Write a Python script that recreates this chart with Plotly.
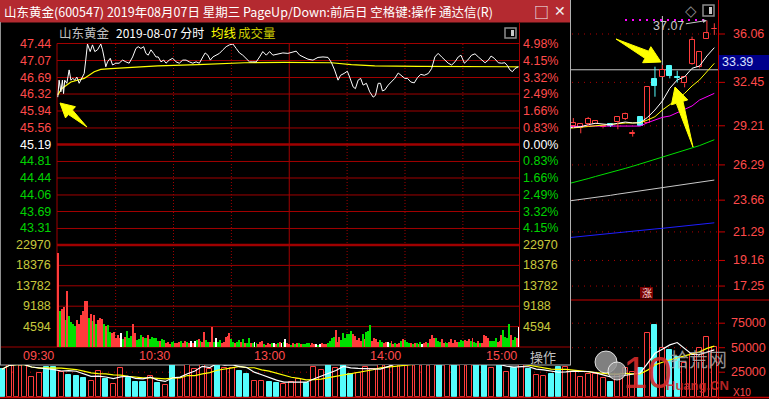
import math
import pandas as pd
import plotly.graph_objects as go

W, H = 769, 399


def fx(px):
    return px / W


def fy(py):
    return 1 - py / H


# ====================== DATA ======================
title_text = "山东黄金(600547) 2019年08月07日 星期三 PageUp/Down:前后日 空格键:操作 通达信(R)"
stock_name = "山东黄金"
date_label = "2019-08-07 分时"
prev_close = 45.19

# intraday price line (minute index from 09:30, 13:00 = 120)
price_minutes = [
    0, 0.7, 1.6, 2.4, 3.0, 3.6, 4.7, 5.9, 6.8, 7.8,
    8.8, 9.9, 11.1, 12.3, 13.7, 14.5, 15.4, 16.8, 18.0, 19.2,
    20.6, 22.3, 23.2, 24.1, 24.9, 25.8, 27.2, 28.4, 30.1, 31.8,
    33.6, 35.3, 37.0, 38.8, 40.5, 41.7, 43.1, 44.5, 45.7, 46.9,
    48.3, 49.7, 50.9, 52.1, 53.5, 54.9, 56.1, 57.8, 59.6, 61.3,
    63.0, 64.8, 66.5, 68.2, 70.0, 71.7, 73.4, 75.2, 76.4, 77.8,
    79.1, 80.4, 82.1, 83.8, 85.6, 87.3, 89.0, 90.8, 92.5, 94.2,
    95.9, 97.7, 99.4, 101.1, 102.9, 104.6, 106.3, 108.1, 109.8, 111.5,
    114.1, 116.7, 119.3, 121.9, 123.6, 125.4, 127.6, 129.7, 132.3, 134.9,
    137.5, 140.1, 141.8, 143.5, 145.3, 146.6, 148.4, 150.1, 151.3, 153.1,
    154.3, 155.7, 157.0, 158.3, 160.0, 161.7, 163.5, 164.7, 166.1, 167.3,
    168.3, 169.5, 171.3, 173.0, 174.7, 176.5, 178.2, 179.9, 181.3, 183.0,
    184.8, 186.5, 188.2, 190.0, 192.1, 193.8, 195.5, 197.2, 199.0, 200.7,
    202.4, 204.2, 205.9, 207.6, 209.0, 210.8, 212.5, 214.5, 216.3, 218.0,
    219.7, 221.5, 223.2, 224.6, 226.3, 228.4, 230.1, 231.8, 233.2, 234.4,
    235.7, 237.0, 238.8,
]
price_values = [
    46.25, 46.63, 46.37, 46.63, 46.33, 46.63, 46.56, 46.86, 46.63, 46.67,
    46.63, 46.70, 46.56, 46.67, 46.78, 47.08, 47.44, 47.27, 47.42, 47.27,
    47.31, 47.44, 47.31, 47.12, 46.93, 47.04, 47.12, 46.97, 47.01, 47.01,
    47.08, 47.04, 47.01, 47.15, 47.34, 47.38, 47.34, 47.38, 47.23, 47.19,
    47.31, 47.23, 47.15, 47.15, 47.04, 47.08, 47.01, 47.08, 47.12, 47.04,
    47.01, 47.08, 47.08, 47.04, 47.01, 47.04, 47.01, 47.15, 47.24, 47.19,
    47.08, 47.15, 47.19, 47.23, 47.31, 47.38, 47.42, 47.44, 47.34, 47.24,
    47.19, 47.12, 47.04, 47.04, 47.04, 47.15, 47.27, 47.19, 47.27, 47.19,
    47.22, 47.24, 47.23, 47.27, 47.28, 47.19, 47.14, 47.10, 47.08, 47.14,
    47.15, 47.14, 47.03, 46.86, 46.63, 46.74, 46.78, 46.83, 46.70, 46.48,
    46.44, 46.63, 46.67, 46.52, 46.56, 46.37, 46.25, 46.29, 46.56, 46.56,
    46.39, 46.41, 46.52, 46.59, 46.67, 46.79, 46.74, 46.67, 46.67, 46.59,
    46.57, 46.69, 46.76, 46.74, 46.78, 46.89, 47.15, 47.23, 47.15, 47.08,
    47.01, 46.97, 47.04, 47.15, 47.19, 47.01, 47.08, 47.19, 47.22, 47.15,
    47.08, 47.02, 47.08, 47.17, 47.12, 47.02, 47.01, 47.02, 46.95, 46.86,
    46.82, 46.89, 46.93,
]

# average price line
avg_minutes = [0, 2, 6.8, 11.1, 13.7, 18.9, 22.3, 27.5, 39.6, 51.8, 72.6, 96.8,
               117.6, 141.8, 152.2, 164.3, 186.8, 238.8]
avg_values = [46.30, 46.44, 46.59, 46.63, 46.67, 46.82, 46.87, 46.89, 46.92, 46.95,
              46.98, 47.02, 47.03, 47.02, 46.98, 46.95, 46.94, 46.93]

# per-minute volume, morning (minutes 0..119) and afternoon (120..239)
vol_am = [
    21100, 8180, 8490, 8940, 6080, 12680, 6980, 5700, 5070, 4750,
    6080, 5070, 7200, 8180, 10360, 10360, 6460, 7360, 5920, 7200,
    5070, 6080, 6460, 6300, 5070, 4750, 4880, 3450, 3130, 3350,
    1950, 2700, 1950, 3130, 1730, 2330, 3680, 1950, 2550, 5070,
    3130, 1580, 1730, 2700, 2330, 1950, 1950, 2700, 1730, 2330,
    1950, 1950, 1430, 1430, 1730, 1580, 970, 1200, 680, 1200,
    1430, 970, 830, 1200, 1430, 970, 1430, 1200, 830, 1430,
    970, 1430, 1580, 1730, 1430, 1200, 3450, 1580, 1200, 1200,
    4440, 1200, 1950, 1200, 1580, 830, 1200, 2330, 2480, 3200,
    1730, 1200, 970, 1200, 1580, 1200, 1730, 970, 830, 1950,
    830, 970, 1200, 830, 680, 1200, 1430, 680, 450, 970,
    680, 830, 970, 680, 970, 1200, 830, 1200, 1730, 970,
]
dir_am = [  # 1 up (red), -1 down (green), 0 unchanged (white)
    1, -1, 1, 1, -1, 1, -1, -1, -1, -1,
    1, 1, 1, 1, 1, 1, -1, 1, -1, 1,
    -1, 1, 1, 1, -1, 1, -1, -1, 1, 1,
    1, 1, 1, 0, -1, 1, -1, -1, -1, 1,
    1, -1, -1, -1, 1, -1, -1, 1, -1, -1,
    -1, -1, -1, 1, -1, -1, 1, 1, 1, -1,
    -1, 1, 1, 1, -1, 1, 1, -1, 1, 0,
    1, 0, -1, 1, -1, 1, 1, -1, -1, 1,
    1, -1, 0, -1, -1, 1, 1, 1, 1, 1,
    -1, -1, 1, -1, -1, 1, -1, 1, -1, -1,
    1, -1, 0, -1, 1, 1, 1, -1, 1, 1,
    1, -1, 0, 1, -1, 1, 0, -1, 0, 1,
]
vol_pm = [
    680, 450, 830, 680, 970, 830, 680, 680, 680, 830,
    970, 450, 830, 680, 680, 450, 680, 830, 680, 680,
    970, 1430, 1950, 2330, 3830, 1200, 2330, 1580, 3130, 1950,
    2960, 2960, 3600, 2960, 2480, 1580, 1950, 1430, 2960, 1730,
    3370, 3680, 4950, 1430, 1950, 1730, 1200, 1580, 1200, 830,
    1200, 1200, 970, 1430, 680, 970, 680, 830, 1430, 1730,
    1580, 1200, 830, 970, 680, 970, 970, 680, 1200, 680,
    830, 1200, 970, 1730, 2700, 1950, 1950, 1430, 1200, 1730,
    970, 1200, 970, 1200, 1730, 970, 1580, 1200, 1200, 1580,
    1430, 1580, 1430, 1730, 1430, 1950, 1200, 970, 1430, 970,
    830, 2700, 2480, 1950, 1430, 1430, 1430, 1950, 1200, 1430,
    2700, 3830, 2330, 1950, 5180, 2700, 1580, 2330, 1950, 4570,
]
dir_pm = [
    1, -1, 1, -1, 1, -1, 1, -1, -1, -1,
    -1, 1, 1, 1, 0, -1, 0, 1, 1, 1,
    -1, -1, -1, -1, 1, 1, 1, -1, -1, -1,
    -1, -1, -1, 1, 1, 1, 1, 1, -1, 1,
    -1, -1, -1, 1, 1, 1, 1, -1, -1, 1,
    1, 0, -1, 1, 1, -1, 1, 1, -1, 1,
    -1, -1, -1, 1, -1, 1, -1, 1, -1, 0,
    1, 1, -1, 1, 1, 1, -1, -1, -1, 1,
    1, -1, -1, 1, 1, 1, 1, 1, -1, -1,
    -1, 1, 1, 1, -1, 1, -1, -1, 1, -1,
    1, 1, 1, 1, -1, -1, -1, -1, 1, 1,
    1, -1, -1, -1, -1, 1, -1, -1, 1, 0,
]

price_ticks = [47.44, 47.07, 46.69, 46.32, 45.94, 45.56, 45.19,
               44.81, 44.44, 44.06, 43.69, 43.31]
price_floor = 42.94
pct_labels = ["4.98%", "4.15%", "3.32%", "2.49%", "1.66%", "0.83%", "0.00%",
              "0.83%", "1.66%", "2.49%", "3.32%", "4.15%"]
vol_ticks = [22970, 18376, 13782, 9188, 4594]
time_labels = ["09:30", "10:30", "13:00", "14:00", "15:00"]
time_marks = [0, 60, 120, 180, 240]
dotted_minutes = [30, 60, 90, 150, 180, 210]
noon_minute = 120

# daily K-line (visible candles, bar index 77..96)
k_index = list(range(77, 97))
k_open = [29.19, 29.07, 29.34, 29.32, 29.10, 29.34, 29.47, 29.72, 28.62, 29.84,
          29.40, 32.70, 32.87, 33.67, 32.83, 32.38, 33.80, 33.57, 35.69, 36.40]
k_high = [29.79, 29.32, 29.87, 29.64, 29.22, 29.40, 29.84, 30.19, 28.90, 29.94,
          32.08, 33.62, 33.75, 33.75, 33.32, 32.83, 35.86, 34.74, 37.07, 36.86]
k_low = [29.05, 28.65, 29.14, 29.32, 29.02, 29.12, 28.95, 29.64, 28.40, 29.19,
         29.40, 31.38, 32.87, 32.75, 32.43, 32.08, 33.75, 33.50, 35.69, 35.99]
k_close = [29.40, 29.32, 29.72, 29.59, 29.19, 29.19, 29.84, 30.07, 28.65, 29.19,
           32.08, 32.18, 33.37, 32.93, 32.78, 32.83, 35.61, 34.74, 36.11, 36.45]

# moving averages (bar index 76..96)
ma_index = list(range(76, 97))
ma5 = [29.05, 29.10, 29.14, 29.29, 29.40, 29.34, 29.29, 29.40, 29.49, 29.42, 29.44,
       29.84, 30.39, 31.06, 32.01, 32.63, 32.87, 33.50, 33.67, 34.42, 35.04]
ma10 = [29.00, 29.05, 29.10, 29.20, 29.25, 29.30, 29.30, 29.35, 29.42, 29.42, 29.44,
        29.64, 29.89, 30.39, 30.76, 31.19, 31.63, 32.18, 32.63, 33.25, 33.87]
ma20 = [29.15, 29.17, 29.18, 29.19, 29.19, 29.19, 29.19, 29.19, 29.20, 29.20, 29.19,
        29.44, 29.64, 29.84, 29.94, 30.19, 30.39, 30.69, 31.13, 31.38, 31.63]
ma60 = [24.84, 24.97, 25.13, 25.27, 25.43, 25.57, 25.72, 25.89, 26.03, 26.19, 26.36,
        26.51, 26.69, 26.85, 27.01, 27.20, 27.37, 27.56, 27.73, 27.95, 28.17]
ma120 = [23.57, 23.64, 23.70, 23.79, 23.86, 23.95, 24.02, 24.11, 24.19, 24.27, 24.36,
         24.43, 24.52, 24.60, 24.67, 24.76, 24.84, 24.91, 25.00, 25.07, 25.16]
ma250 = [20.84, 20.90, 20.95, 21.01, 21.06, 21.11, 21.17, 21.23, 21.28, 21.34, 21.40,
         21.45, 21.51, 21.56, 21.62, 21.68, 21.73, 21.79, 21.85, 21.90, 21.97]

# daily volume, bar index 0..96
kvol = [
    28000, 36000, 34000, 33000, 20400, 23900, 30600, 30600, 25500, 22100,
    21100, 19400, 16000, 26200, 17700, 12600, 29000, 18800, 15300, 15300,
    21100, 14300, 11900, 34000, 18800, 38000, 28000, 36000, 28000, 40000,
    29600, 29600, 26500, 23200, 16300, 16300, 15000, 13700, 13000, 15300,
    17700, 14300, 30000, 27200, 33000, 29000, 35000, 23200, 24500, 30600,
    28300, 34000, 36000, 38000, 37000, 40000, 42000, 39000, 41000, 38000,
    36000, 40000, 37000, 35000, 34000, 33000, 29000, 34000, 25200, 29600,
    36000, 28000, 22100, 21400, 23200, 30000, 30000, 25500, 19800, 23200,
    23200, 19400, 15300, 22000, 29000, 25500, 29000, 64700, 73200, 50000,
    47600, 40800, 34000, 43600, 49400, 61200, 51000,
]
kvol_dir = [
    -1, 1, 1, 1, 1, 1, -1, -1, 1, -1,
    -1, -1, 1, 1, -1, 1, 1, -1, -1, -1,
    1, -1, 1, -1, 1, 1, 1, 1, 1, -1,
    1, 1, -1, -1, 1, 1, -1, -1, 1, 1,
    1, -1, 1, 1, -1, 1, -1, -1, 1, 1,
    1, 1, 1, 1, 1, 1, 1, 1, 1, -1,
    1, -1, 1, 1, -1, -1, 1, -1, 1, -1,
    1, -1, 1, 1, -1, -1, 1, 1, 1, 1,
    1, 1, -1, 1, 1, 1, -1, 1, -1, 1,
    -1, -1, 1, 1, 1, 1, 1,
]

k_ticks = [36.06, 32.45, 29.21, 26.29, 23.66, 21.29, 19.16, 17.25]
kvol_ticks = [75000, 50000, 25000]
kvol_unit = "X10"
cross_price = 33.39
cross_index = 89
high_price = 37.07
high_index = 95

# ====================== STYLE / GEOMETRY ======================
BG = "#000000"
TITLE_RED = "#b42a30"
GRID_RED = "#a00000"
AXIS_RED = "#c80000"
TXT_RED = "#ff4a4a"
TXT_GREEN = "#00d200"
TXT_VOL = "#c8c83c"
UP = "#ff3c3c"
DN_GREEN = "#00e000"
CYAN = "#54fcfc"
NUM_FONT = "Liberation Sans, Arial, sans-serif"
CJK_FONT = "Noto Sans CJK SC, sans-serif"

IX0, IX1 = 57, 519
PY0, PY1 = 44, 245
VY1 = 347
KX0, KX1 = 571, 718
K_STEP, K_X0 = 7.42, 2.0
KP_REF_PX, KP_REF_VAL, KP_PX_PER = 34.0, 36.06, 13.4
VOL_BOT = 396.7
VPP = 25000 / 24.5

im_range = [-0.4, 239.1]
k_price_range = [KP_REF_VAL - (300 - KP_REF_PX) / KP_PX_PER, KP_REF_VAL + KP_REF_PX / KP_PX_PER]
kx_range_r = [(KX0 - K_X0) / K_STEP, (KX1 - K_X0) / K_STEP]
kx_range_l = [(0 - K_X0) / K_STEP, (KX0 - K_X0) / K_STEP]


def mx(m):
    return IX0 + (m - im_range[0]) / (im_range[1] - im_range[0]) * (IX1 - IX0)


fig = go.Figure()

# ---------- intraday volume ----------
minutes = list(range(len(vol_am))) + [120 + i for i in range(len(vol_pm))]
vols = vol_am + vol_pm
dirs = dir_am + dir_pm
cmap = {1: UP, -1: DN_GREEN, 0: "#ffffff"}
fig.add_trace(go.Bar(x=minutes, y=vols, width=0.48,
                     marker=dict(color=[cmap[d] for d in dirs], line=dict(width=0)),
                     xaxis="x", yaxis="y2", hoverinfo="skip"))

# ---------- intraday price + average ----------
fig.add_trace(go.Scatter(x=avg_minutes, y=avg_values, mode="lines",
                         line=dict(color="#ffff00", width=1.2), xaxis="x", yaxis="y", hoverinfo="skip"))
fig.add_trace(go.Scatter(x=price_minutes, y=price_values, mode="lines",
                         line=dict(color="#ffffff", width=1), xaxis="x", yaxis="y", hoverinfo="skip"))

# ---------- K-line MAs ----------
for arr, col in [(ma250, "#1e1eff"), (ma120, "#c8c8c8"), (ma60, "#00e000"),
                 (ma20, "#ff00ff"), (ma10, "#ffff00"), (ma5, "#ffffff")]:
    fig.add_trace(go.Scatter(x=ma_index, y=arr, mode="lines", line=dict(color=col, width=1),
                             xaxis="x2", yaxis="y3", hoverinfo="skip"))

# ---------- candles ----------
up_flags = [c >= o for o, c in zip(k_open, k_close)]
wx, wy_up, wx_dn, wy_dn = [], [], [], []
for j, o, h, l, c, u in zip(k_index, k_open, k_high, k_low, k_close, up_flags):
    top, bot = max(o, c), min(o, c)
    xs = [j, j, None, j, j, None]
    ys = [top, h, None, bot, l, None]
    if u:
        wx += xs
        wy_up += ys
    else:
        wx_dn += xs
        wy_dn += ys
fig.add_trace(go.Scatter(x=wx, y=wy_up, mode="lines", line=dict(color=UP, width=1),
                         xaxis="x2", yaxis="y3", hoverinfo="skip"))
fig.add_trace(go.Scatter(x=wx_dn, y=wy_dn, mode="lines", line=dict(color=CYAN, width=1),
                         xaxis="x2", yaxis="y3", hoverinfo="skip"))
fig.add_trace(go.Bar(
    x=k_index,
    base=[min(o, c) for o, c in zip(k_open, k_close)],
    y=[max(abs(c - o), 0.04) for o, c in zip(k_open, k_close)],
    width=0.68,
    marker=dict(color=[BG if u else CYAN for u in up_flags],
                line=dict(color=[UP if u else CYAN for u in up_flags], width=1)),
    xaxis="x2", yaxis="y3", hoverinfo="skip"))

# ---------- daily volume (right panel + strip below popup) ----------
kidx = list(range(len(kvol)))
vol_fill = [BG if d > 0 else CYAN for d in kvol_dir]
vol_line = [UP if d > 0 else CYAN for d in kvol_dir]
kv_ma5 = pd.Series(kvol).rolling(5, min_periods=1).mean().tolist()
kv_ma10 = pd.Series(kvol).rolling(10, min_periods=1).mean().tolist()
for xa, ya in [("x3", "y5"), ("x2", "y4")]:
    fig.add_trace(go.Bar(x=kidx, y=kvol, width=0.68,
                         marker=dict(color=vol_fill, line=dict(color=vol_line, width=1)),
                         xaxis=xa, yaxis=ya, hoverinfo="skip"))
    fig.add_trace(go.Scatter(x=kidx, y=kv_ma10, mode="lines", line=dict(color="#ffff00", width=1.2),
                             xaxis=xa, yaxis=ya, hoverinfo="skip"))
    fig.add_trace(go.Scatter(x=kidx, y=kv_ma5, mode="lines", line=dict(color="#ffffff", width=1.2),
                             xaxis=xa, yaxis=ya, hoverinfo="skip"))

# ====================== SHAPES ======================
shapes = []


def line_px(x0, y0, x1, y1, color, width=1, dash="solid", layer="below"):
    shapes.append(dict(type="line", xref="paper", yref="paper", x0=fx(x0), y0=fy(y0),
                       x1=fx(x1), y1=fy(y1), line=dict(color=color, width=width, dash=dash), layer=layer))


def rect_px(x0, y0, x1, y1, fill, line_color=None, lw=0, layer="below"):
    shapes.append(dict(type="rect", xref="paper", yref="paper", x0=fx(x0), y0=fy(y0),
                       x1=fx(x1), y1=fy(y1), fillcolor=fill,
                       line=dict(color=line_color or fill, width=lw), layer=layer))


# title bar
rect_px(0, 0, 571, 22.5, TITLE_RED)

# intraday horizontal grid (price)
for p in price_ticks[1:]:
    shapes.append(dict(type="line", xref="paper", yref="y", x0=fx(IX0), x1=fx(IX1), y0=p, y1=p,
                       line=dict(color=GRID_RED, width=2.4 if p == prev_close else 1), layer="below"))
# volume grid
for v in vol_ticks[1:]:
    shapes.append(dict(type="line", xref="paper", yref="y2", x0=fx(IX0), x1=fx(IX1), y0=v, y1=v,
                       line=dict(color=GRID_RED, width=1), layer="below"))
# thick separator price/volume
line_px(IX0, PY1, IX1, PY1, GRID_RED, 2.4)
# vertical dotted lines
for m in dotted_minutes:
    shapes.append(dict(type="line", xref="x", yref="paper", x0=m, x1=m, y0=fy(PY0), y1=fy(VY1),
                       line=dict(color=GRID_RED, width=1, dash="1px,2px"), layer="below"))
shapes.append(dict(type="line", xref="x", yref="paper", x0=noon_minute, x1=noon_minute,
                   y0=fy(PY0), y1=fy(VY1), line=dict(color=GRID_RED, width=1), layer="below"))
# frame
line_px(IX0, 43.5, IX1, 43.5, GRID_RED, 1)
line_px(IX0, 43.5, IX0, VY1, GRID_RED, 1)
line_px(IX1 + 0.5, 22.5, IX1 + 0.5, VY1, GRID_RED, 1)
line_px(0, VY1, 571, VY1, GRID_RED, 1)

# popup border
line_px(0.5, 22, 0.5, 365, "#909090", 1)
line_px(570.5, 0, 570.5, 365, "#b0b0b0", 1)
line_px(0, 365, 571, 365, "#b0b0b0", 1)

# K panel axis lines
line_px(KX1 + 0.5, 0, KX1 + 0.5, 399, AXIS_RED, 1)
line_px(KX0, 300, 769, 300, AXIS_RED, 1)
line_px(0, 397.5, 769, 397.5, AXIS_RED, 1.5)

# K price dotted grid + tick marks
for p in k_ticks:
    shapes.append(dict(type="line", xref="paper", yref="y3", x0=fx(KX0 + 1), x1=fx(KX1), y0=p, y1=p,
                       line=dict(color="#b00000", width=1, dash="1px,5px"), layer="below"))
    shapes.append(dict(type="line", xref="paper", yref="y3", x0=fx(KX1), x1=fx(KX1 + 7), y0=p, y1=p,
                       line=dict(color=AXIS_RED, width=1), layer="below"))
for v in kvol_ticks:
    shapes.append(dict(type="line", xref="paper", yref="y4", x0=fx(KX0 + 1), x1=fx(KX1), y0=v, y1=v,
                       line=dict(color="#b00000", width=1, dash="1px,5px"), layer="below"))
    shapes.append(dict(type="line", xref="paper", yref="y4", x0=fx(KX1), x1=fx(KX1 + 7), y0=v, y1=v,
                       line=dict(color=AXIS_RED, width=1), layer="below"))
shapes.append(dict(type="line", xref="paper", yref="y5", x0=0, x1=fx(KX0), y0=25000, y1=25000,
                   line=dict(color="#b00000", width=1, dash="1px,5px"), layer="below"))

# crosshair
shapes.append(dict(type="line", xref="x2", yref="paper", x0=cross_index, x1=cross_index,
                   y0=fy(16), y1=fy(397), line=dict(color="#c8c8c8", width=1), layer="below"))
shapes.append(dict(type="line", xref="paper", yref="y3", x0=fx(KX0), x1=fx(KX1), y0=cross_price,
                   y1=cross_price, line=dict(color="#c8c8c8", width=1), layer="below"))
# price box on axis
rect_px(719, 55, 769, 70, "#00008c", layer="above")

# magenta dotted marker line
line_px(625, 20, 707, 20, "#ff00ff", 2, dash="2px,5px", layer="above")

# 涨 box
rect_px(640, 287, 653, 298.5, "#7a0000", layer="above")

# icons
rect_px(505, 28, 516, 38, "rgba(0,0,0,0)", "#8c8c8c", 1.5, layer="above")
rect_px(511, 30, 514, 36, "#c8c8c8", layer="above")
rect_px(703, 5, 714, 16, "rgba(0,0,0,0)", "#8c8c8c", 1.5, layer="above")
rect_px(709, 7, 712, 14, "#c8c8c8", layer="above")


# yellow hand-drawn arrows
def arrow_path(tip, tail, head_len, head_half, shaft_half):
    dx, dy = tip[0] - tail[0], tip[1] - tail[1]
    L = math.hypot(dx, dy)
    ux, uy = dx / L, dy / L
    nx, ny = -uy, ux
    bx, by = tip[0] - head_len * ux, tip[1] - head_len * uy
    pts = [tip, (bx + head_half * nx, by + head_half * ny), (bx + shaft_half * nx, by + shaft_half * ny),
           tail, (bx - shaft_half * nx, by - shaft_half * ny), (bx - head_half * nx, by - head_half * ny)]
    return "M " + " L ".join(f"{fx(x):.5f},{fy(y):.5f}" for x, y in pts) + " Z"


for tip, tail, hl, hh, sh in [((60, 103), (87, 127), 14, 7.5, 3),
                              ((661, 62), (616, 39), 16, 9, 4),
                              ((675, 87), (693, 147), 16, 8.5, 3.5)]:
    shapes.append(dict(type="path", xref="paper", yref="paper", path=arrow_path(tip, tail, hl, hh, sh),
                       fillcolor="#ffff00", line=dict(color="#ffff00", width=1), layer="above"))

# watermark bubbles
for cx, cy, r in [(606, 362, 11), (617, 371, 9)]:
    shapes.append(dict(type="circle", xref="paper", yref="paper", x0=fx(cx - r), x1=fx(cx + r),
                       y0=fy(cy - r), y1=fy(cy + r), fillcolor="rgba(150,150,150,0.85)",
                       line=dict(color="rgba(255,255,255,0.8)", width=1), layer="above"))

# ====================== ANNOTATIONS ======================
annotations = []


def text_at(x, y, text, color, size=12, xanchor="left", xref="paper", yref="paper",
            family=NUM_FONT, **kw):
    annotations.append(dict(x=x, y=y, xref=xref, yref=yref, text=text, showarrow=False,
                            xanchor=xanchor, yanchor="middle",
                            font=dict(color=color, size=size, family=family), **kw))


text_at(fx(2), fy(11), title_text, "#ffffff", 12.5, family=CJK_FONT)
text_at(fx(541), fy(11), "□", "#f0f0f0", 15, xanchor="center", family=CJK_FONT)
text_at(fx(560), fy(11), "✕", "#f0f0f0", 14, xanchor="center", family="DejaVu Sans")

text_at(fx(57), fy(33), stock_name, "#c0c0c0", 12.5, family=CJK_FONT)
text_at(fx(114), fy(33), date_label, "#ffffff", 12, family=CJK_FONT)
text_at(fx(209), fy(33), "均线", "#ffff00", 12.5, family=CJK_FONT)
text_at(fx(236), fy(33), "成交量", "#c8c800", 12.5, family=CJK_FONT)

for p, pct in zip(price_ticks, pct_labels):
    col = TXT_RED if p > prev_close else ("#ffffff" if p == prev_close else TXT_GREEN)
    text_at(fx(52.5), p, f"{p:.2f}", col, 12.5, xanchor="right", yref="y")
    text_at(fx(521), p, pct, col, 12.5, yref="y")
for v in vol_ticks:
    text_at(fx(52.5), v, str(v), TXT_VOL, 12.5, xanchor="right", yref="y2")
    text_at(fx(521), v, str(v), TXT_VOL, 12.5, yref="y2")

for lab, m in zip(time_labels, time_marks):
    text_at(fx(mx(m) - 2), fy(356), lab, TXT_RED, 12.5, xanchor="right")
text_at(fx(528), fy(356), "操作", "#c0c0c0", 13, family=CJK_FONT)

for p in k_ticks:
    text_at(fx(731), p, f"{p:.2f}", TXT_RED, 12.5, yref="y3")
text_at(fx(720), fy(62.5), f"{cross_price:.2f}", "#d8e0ff", 12.5)
for v in kvol_ticks:
    text_at(fx(729), v, str(v), TXT_RED, 12.5, yref="y4")
text_at(fx(731), fy(392.5), kvol_unit, TXT_RED, 10)

text_at(fx(646.5), fy(292.5), "涨", "#f0d0d0", 10, xanchor="center", family=CJK_FONT)
text_at(fx(691), fy(11), "◇", "#8c8c8c", 15, xanchor="center", family="DejaVu Sans")

# max price label with arrow
annotations.append(dict(x=high_index, y=high_price, xref="x2", yref="y3", text=f"{high_price:.2f}",
                        showarrow=True, arrowhead=2, arrowsize=0.8, arrowwidth=1, arrowcolor="#c8c8c8",
                        ax=-38, ay=6, font=dict(color="#c8c8c8", size=12.5, family=NUM_FONT)))

# watermark (kept clear of the axis labels)
text_at(fx(647), fy(372), "10", "#d42a2a", 44, xanchor="center", family="Liberation Sans",
        opacity=0.9)
text_at(fx(668), fy(358), "拾荒网", "#b4b4b4", 19, family=CJK_FONT, opacity=0.8)
text_at(fx(664), fy(385), "<b>Huang.CN</b>", "#d42a2a", 13, family="Liberation Sans", opacity=0.85)

# ====================== LAYOUT ======================
axc = dict(showgrid=False, zeroline=False, showticklabels=False, showline=False, ticks="",
           fixedrange=True)
fig.update_layout(
    width=W, height=H, margin=dict(l=0, r=0, t=0, b=0),
    paper_bgcolor=BG, plot_bgcolor="rgba(0,0,0,0)",
    showlegend=False, barmode="overlay", bargap=0,
    xaxis=dict(domain=[fx(IX0), fx(IX1)], range=im_range, anchor="y2", **axc),
    yaxis=dict(domain=[fy(PY1), fy(PY0)], range=[price_floor, price_ticks[0]], anchor="x", **axc),
    yaxis2=dict(domain=[fy(VY1), fy(PY1)], range=[0, vol_ticks[0]], anchor="x", **axc),
    xaxis2=dict(domain=[fx(KX0), fx(KX1)], range=kx_range_r, anchor="y4", **axc),
    yaxis3=dict(domain=[fy(300), 1.0], range=k_price_range, anchor="x2", **axc),
    yaxis4=dict(domain=[fy(VOL_BOT), fy(300)], range=[0, (VOL_BOT - 300) * VPP], anchor="x2", **axc),
    xaxis3=dict(domain=[0, fx(KX0)], range=kx_range_l, anchor="y5", **axc),
    yaxis5=dict(domain=[fy(VOL_BOT), fy(365)], range=[0, (VOL_BOT - 365) * VPP], anchor="x3", **axc),
    shapes=shapes, annotations=annotations,
    hovermode=False,
)

fig.write_html("out.html", config={"displayModeBar": False})
